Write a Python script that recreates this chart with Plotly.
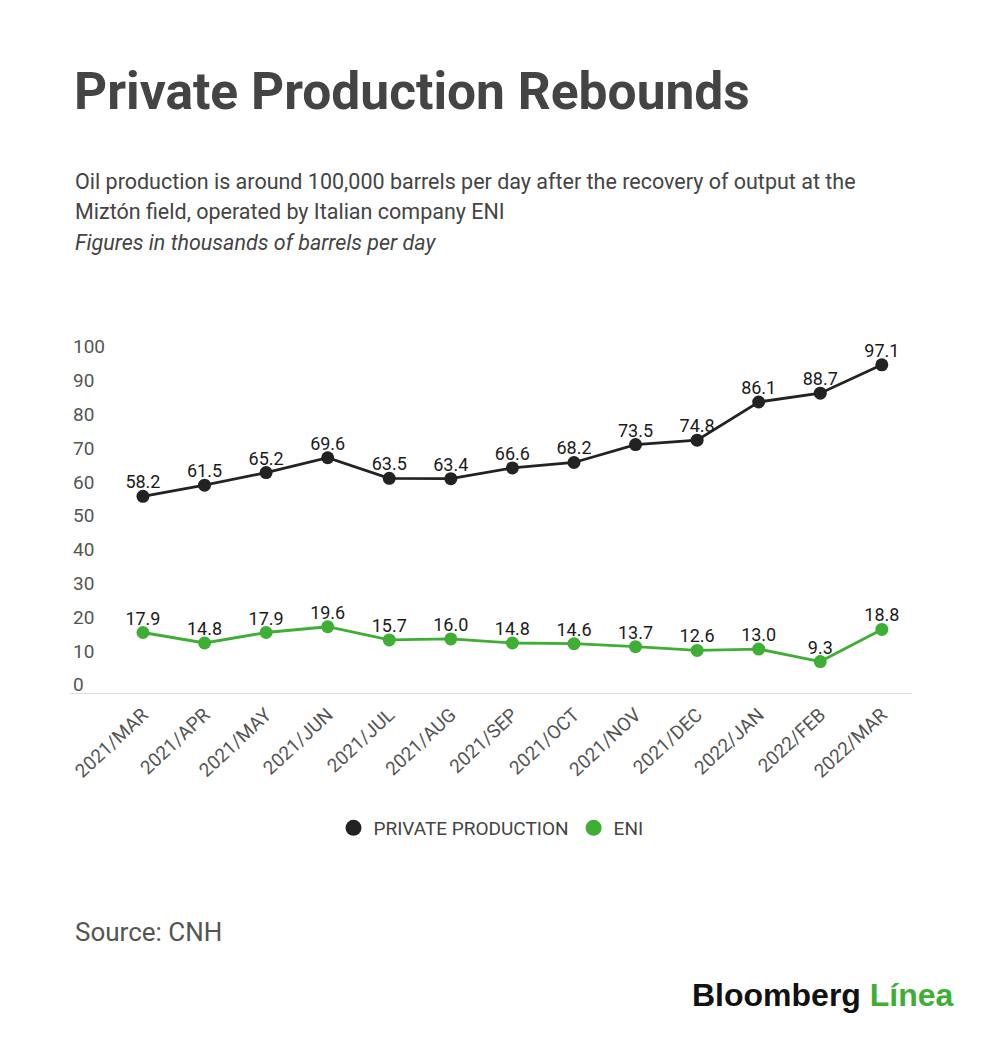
import plotly.graph_objects as go

months = ['2021/MAR', '2021/APR', '2021/MAY', '2021/JUN', '2021/JUL', '2021/AUG', '2021/SEP',
          '2021/OCT', '2021/NOV', '2021/DEC', '2022/JAN', '2022/FEB', '2022/MAR']
private_production = [58.2, 61.5, 65.2, 69.6, 63.5, 63.4, 66.6, 68.2, 73.5, 74.8, 86.1, 88.7, 97.1]
eni = [17.9, 14.8, 17.9, 19.6, 15.7, 16.0, 14.8, 14.6, 13.7, 12.6, 13.0, 9.3, 18.8]
y_ticks = [0, 10, 20, 30, 40, 50, 60, 70, 80, 90, 100]

BLACK = '#222222'
GREEN = '#3fae34'
GREY = '#444444'

W, H = 1000, 1038
# plot area in pixels (left, right, top, bottom); the zero line sits at y=693
L, R, T, B = 70, 912, 325, 699
ZERO = 693
SCALE = 3.38  # px per unit, as in the original
Y_RANGE = [-(B - ZERO) / SCALE, (ZERO - T) / SCALE]


def px(x):
    return (x - L) / (R - L)


def py(y):
    return (B - y) / (B - T)


fig = go.Figure()

for name, vals, col in [('PRIVATE PRODUCTION', private_production, BLACK), ('ENI', eni, GREEN)]:
    fig.add_trace(go.Scatter(
        x=months, y=vals, mode='lines+markers', name=name,
        line=dict(color=col, width=2.8),
        marker=dict(color=col, size=13),
        showlegend=False, hoverinfo='skip',
    ))
    # value labels, kept close to the dots (tiny invisible marker sets the gap)
    fig.add_trace(go.Scatter(
        x=months, y=vals, mode='markers+text', text=[f'{v:.1f}' for v in vals],
        marker=dict(size=4, color='rgba(0,0,0,0)'),
        textposition='top center', cliponaxis=False, showlegend=False,
        textfont=dict(family='Roboto', size=18, color='#1a1a1a'),
    ))
    # legend entry with just the dot
    fig.add_trace(go.Scatter(
        x=[None], y=[None], mode='markers', name=name,
        marker=dict(color=col, size=23),
    ))

notes = [
    ('Oil production is around 100,000 barrels per day after the recovery of output at the', 181, 21.5, GREY),
    ('Miztón field, operated by Italian company ENI', 212, 21.5, GREY),
    ('<i>Figures in thousands of barrels per day</i>', 242, 21.5, GREY),
    ('Source: CNH', 932, 26, '#555555'),
]
for txt, y, size, col in notes:
    fig.add_annotation(
        text=txt, xref='paper', yref='paper', x=px(73), y=py(y),
        xanchor='left', yanchor='middle', showarrow=False,
        font=dict(family='Roboto', size=size, color=col),
    )

fig.add_annotation(
    text=f"<b>Bloomberg <span style='color:{GREEN}'>Línea</span></b>",
    xref='paper', yref='paper', x=px(956), y=py(995), xanchor='right', yanchor='middle',
    showarrow=False, font=dict(family='Liberation Sans', size=32, color='#111111'),
)

fig.update_layout(
    width=W, height=H,
    margin=dict(l=L, r=W - R, t=T, b=H - B),
    paper_bgcolor='white', plot_bgcolor='white',
    title=dict(text='<b>Private Production Rebounds</b>', xref='container', yref='container',
               x=74 / W, y=1 - 91 / H, xanchor='left', yanchor='middle',
               font=dict(family='Roboto', size=51.5, color=GREY)),
    legend=dict(orientation='h', x=0.5, xanchor='center', y=py(828), yanchor='middle',
                font=dict(family='Roboto', size=19, color=GREY)),
    xaxis=dict(
        type='category', range=[-1.185, 12.49], showgrid=False, zeroline=False,
        showline=False, ticks='',
        tickangle=-43, tickfont=dict(family='Roboto', size=19, color='#555555'),
    ),
    yaxis=dict(
        range=Y_RANGE, tickvals=y_ticks, showgrid=False, showline=False,
        zeroline=True, zerolinecolor='#dddddd', zerolinewidth=1,
        ticklabelposition='inside top', ticks='', ticklabelshift=5,
        tickfont=dict(family='Roboto', size=19, color='#555555'),
    ),
)

# the page body has a default 8px margin; drop it so the figure sits at the window corner
fig.write_html('out.html', config={'displayModeBar': False},
               post_script="document.body.style.margin='0';")
